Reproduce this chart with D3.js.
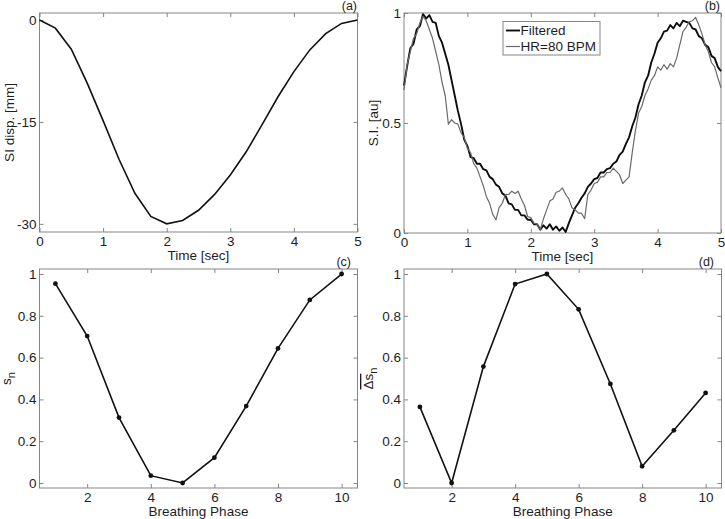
<!DOCTYPE html>
<html>
<head>
<meta charset="utf-8">
<script src="https://cdn.jsdelivr.net/npm/d3@7"></script>
<style>
  body { margin: 0; background: #fff; }
  text { font-family: Arial, "Liberation Sans", sans-serif; }
</style>
</head>
<body>
<script>
// ---- data ----
// (a) SI displacement over one breathing cycle
const dispTime = [0, 0.25, 0.5, 0.75, 1, 1.25, 1.5, 1.75, 2, 2.25, 2.5, 2.75, 3, 3.25, 3.5, 3.75, 4, 4.25, 4.5, 4.75, 5];
const dispMm = [0, -1.2, -4.3, -9.3, -14.8, -20.5, -25.5, -28.9, -30, -29.5, -28, -25.7, -22.8, -19.4, -15.4, -11.3, -7.6, -4.4, -2, -0.5, 0];

// (b) signal intensity, sampled every 0.05 s from 0 to 5 s
const siStep = 0.05;
const siFiltered = [
  0.67, 0.76, 0.84, 0.86, 0.925, 0.94, 0.995, 0.975, 0.99, 0.96,
  0.955, 0.895, 0.865, 0.815, 0.765, 0.695, 0.625, 0.555, 0.495, 0.425,
  0.395, 0.345, 0.34, 0.315, 0.315, 0.29, 0.285, 0.255, 0.245, 0.22,
  0.21, 0.18, 0.17, 0.135, 0.13, 0.105, 0.105, 0.08, 0.08, 0.06,
  0.06, 0.04, 0.04, 0.015, 0.035, 0.02, 0.04, 0.015, 0.03, 0.01,
  0.025, 0.005, 0.045, 0.08, 0.115, 0.135, 0.16, 0.18, 0.21, 0.225,
  0.245, 0.25, 0.275, 0.275, 0.29, 0.295, 0.315, 0.325, 0.355, 0.37,
  0.405, 0.435, 0.485, 0.525, 0.585, 0.625, 0.685, 0.715, 0.775, 0.815,
  0.865, 0.885, 0.915, 0.92, 0.945, 0.93, 0.955, 0.94, 0.965, 0.96,
  0.955, 0.93, 0.925, 0.895, 0.885, 0.855, 0.845, 0.805, 0.795, 0.755,
  0.735
];
const siHR80 = [
  0.65, 0.765, 0.825, 0.885, 0.905, 0.955, 0.985, 0.965, 0.925, 0.885,
  0.825, 0.765, 0.685, 0.625, 0.495, 0.515, 0.5, 0.495, 0.455, 0.435,
  0.385, 0.365, 0.315, 0.295, 0.255, 0.215, 0.165, 0.135, 0.085, 0.06,
  0.115, 0.135, 0.175, 0.175, 0.19, 0.18, 0.19, 0.155, 0.125, 0.075,
  0.07, 0.045, 0.04, 0.015, 0.065, 0.105, 0.145, 0.155, 0.185, 0.19,
  0.205, 0.175, 0.155, 0.115, 0.105, 0.09, 0.09, 0.065, 0.175, 0.195,
  0.225, 0.23, 0.255, 0.255, 0.275, 0.275, 0.295, 0.28, 0.265, 0.225,
  0.24, 0.255, 0.365, 0.465, 0.545, 0.575, 0.625, 0.655, 0.695, 0.715,
  0.755, 0.74, 0.765, 0.745, 0.77, 0.755, 0.795, 0.855, 0.915, 0.935,
  0.96, 0.965, 0.98, 0.945, 0.905, 0.855, 0.825, 0.775, 0.755, 0.705,
  0.66
];

// (c), (d) per breathing phase
const phases = [1, 2, 3, 4, 5, 6, 7, 8, 9, 10];
const sn = [0.954, 0.703, 0.313, 0.035, 0, 0.121, 0.368, 0.644, 0.876, 1];
const dsn = [0.364, 0, 0.557, 0.952, 1, 0.831, 0.474, 0.08, 0.252, 0.431];

// tick values
const timeTicks = [0, 1, 2, 3, 4, 5];
const dispTicks = [-30, -15, 0];
const siTicks = [0, 0.5, 1];
const phaseTicks = [2, 4, 6, 8, 10];
const fracTicks = [0, 0.2, 0.4, 0.6, 0.8, 1];

// ---- layout ----
const W = 725, H = 519;
const svg = d3.select('body').append('svg').attr('width', W).attr('height', H);

const boxColor = '#858585';
const textColor = '#1e1e1e';
const fs = 13.5;

function makePanel(x0, x1, y0, y1, xDom, yDom) {
  return {
    x0, x1, y0, y1,
    x: d3.scaleLinear().domain(xDom).range([x0, x1]),
    y: d3.scaleLinear().domain(yDom).range([y1, y0])
  };
}

const pa = makePanel(39.5, 357.5, 13, 232, [0, 5], [-31.2, 1.03]);
const pb = makePanel(404, 721, 13, 233, [0, 5], [0, 1]);
const pc = makePanel(39.5, 357.5, 269, 488, [0.5, 10.5], [-0.024, 1.024]);
const pd = makePanel(404, 721.5, 269, 488, [0.5, 10.5], [-0.024, 1.024]);

function drawAxes(p, xTicks, yTicks) {
  const g = svg.append('g');
  const fmt = d => String(d);
  // bottom + left with labels, top + right just ticks
  g.append('g').attr('transform', `translate(0,${p.y1})`)
    .call(d3.axisBottom(p.x).tickValues(xTicks).tickSize(-4).tickPadding(4).tickFormat(fmt));
  g.append('g').attr('transform', `translate(0,${p.y0})`)
    .call(d3.axisTop(p.x).tickValues(xTicks).tickSize(-4).tickFormat(''));
  g.append('g').attr('transform', `translate(${p.x0},0)`)
    .call(d3.axisLeft(p.y).tickValues(yTicks).tickSize(-4).tickPadding(3).tickFormat(fmt));
  g.append('g').attr('transform', `translate(${p.x1},0)`)
    .call(d3.axisRight(p.y).tickValues(yTicks).tickSize(-4).tickFormat(''));
  g.selectAll('.domain').remove();
  g.selectAll('.tick line').attr('stroke', boxColor);
  g.selectAll('.tick text').attr('fill', textColor).style('font-size', fs + 'px')
    .style('font-family', 'Arial, "Liberation Sans", sans-serif');
  // box
  svg.append('rect')
    .attr('x', p.x0).attr('y', p.y0)
    .attr('width', p.x1 - p.x0).attr('height', p.y1 - p.y0)
    .attr('fill', 'none').attr('stroke', boxColor).attr('stroke-width', 1);
}

function xLabel(p, txt) {
  svg.append('text')
    .attr('x', (p.x0 + p.x1) / 2).attr('y', p.y1 + 28)
    .attr('text-anchor', 'middle').attr('fill', textColor)
    .style('font-size', fs + 'px').text(txt);
}

function yLabel(p, xb) {
  return svg.append('text')
    .attr('transform', `translate(${xb},${(p.y0 + p.y1) / 2}) rotate(-90)`)
    .attr('text-anchor', 'middle').attr('fill', textColor)
    .style('font-size', fs + 'px');
}

function tag(xr, yb, txt) {
  svg.append('text').attr('x', xr).attr('y', yb)
    .attr('text-anchor', 'end').attr('fill', textColor)
    .style('font-size', '12.5px').text(txt);
}

// ---- (a) ----
drawAxes(pa, timeTicks, dispTicks);
svg.append('path')
  .datum(dispTime.map((t, i) => [t, dispMm[i]]))
  .attr('fill', 'none').attr('stroke', '#111').attr('stroke-width', 1.6)
  .attr('d', d3.line().x(d => pa.x(d[0])).y(d => pa.y(d[1])));
xLabel(pa, 'Time [sec]');
yLabel(pa, 14).text('SI disp. [mm]');
tag(357, 10, '(a)');

// ---- (b) ----
drawAxes(pb, timeTicks, siTicks);
const siLine = d3.line().x((d, i) => pb.x(i * siStep)).y(d => pb.y(d));
svg.append('path').datum(siFiltered)
  .attr('fill', 'none').attr('stroke', '#0d0d0d').attr('stroke-width', 1.9)
  .attr('stroke-linejoin', 'round').attr('d', siLine);
svg.append('path').datum(siHR80)
  .attr('fill', 'none').attr('stroke', '#6a6a6a').attr('stroke-width', 1.2)
  .attr('stroke-linejoin', 'round').attr('d', siLine);
xLabel(pb, 'Time [sec]');
yLabel(pb, 378).text('S.I. [au]');
tag(720, 10, '(b)');

// legend
const leg = svg.append('g');
leg.append('rect').attr('x', 503).attr('y', 21.5).attr('width', 97).attr('height', 33.5)
  .attr('fill', '#fff').attr('stroke', boxColor);
const legItems = [
  { name: 'Filtered', color: '#0d0d0d', w: 1.9 },
  { name: 'HR=80 BPM', color: '#6a6a6a', w: 1.2 }
];
legItems.forEach((it, i) => {
  const yy = 30.5 + i * 16;
  leg.append('line').attr('x1', 506).attr('x2', 520).attr('y1', yy).attr('y2', yy)
    .attr('stroke', it.color).attr('stroke-width', it.w);
  leg.append('text').attr('x', 520.5).attr('y', yy + 4.8).attr('fill', textColor)
    .style('font-size', fs + 'px').text(it.name);
});

// ---- (c) ----
drawAxes(pc, phaseTicks, fracTicks);
svg.append('path')
  .datum(phases.map((ph, i) => [ph, sn[i]]))
  .attr('fill', 'none').attr('stroke', '#111').attr('stroke-width', 1.6)
  .attr('d', d3.line().x(d => pc.x(d[0])).y(d => pc.y(d[1])));
svg.append('g').selectAll('circle')
  .data(phases.map((ph, i) => [ph, sn[i]]))
  .join('circle')
  .attr('cx', d => pc.x(d[0])).attr('cy', d => pc.y(d[1]))
  .attr('r', 2.4).attr('fill', '#111');
xLabel(pc, 'Breathing Phase');
const lc = yLabel(pc, 11);
lc.append('tspan').text('s');
lc.append('tspan').attr('dy', 4).style('font-size', '11px').text('n');
tag(351, 266, '(c)');

// ---- (d) ----
drawAxes(pd, phaseTicks, fracTicks);
svg.append('path')
  .datum(phases.map((ph, i) => [ph, dsn[i]]))
  .attr('fill', 'none').attr('stroke', '#111').attr('stroke-width', 1.6)
  .attr('d', d3.line().x(d => pd.x(d[0])).y(d => pd.y(d[1])));
svg.append('g').selectAll('circle')
  .data(phases.map((ph, i) => [ph, dsn[i]]))
  .join('circle')
  .attr('cx', d => pd.x(d[0])).attr('cy', d => pd.y(d[1]))
  .attr('r', 2.4).attr('fill', '#111');
xLabel(pd, 'Breathing Phase');
const ld = yLabel(pd, 373);
ld.append('tspan').style('text-decoration', 'overline').text('\u0394s');
ld.append('tspan').attr('dy', 4).style('font-size', '11px').text('n');
tag(714, 266, '(d)');
</script>
</body>
</html>
